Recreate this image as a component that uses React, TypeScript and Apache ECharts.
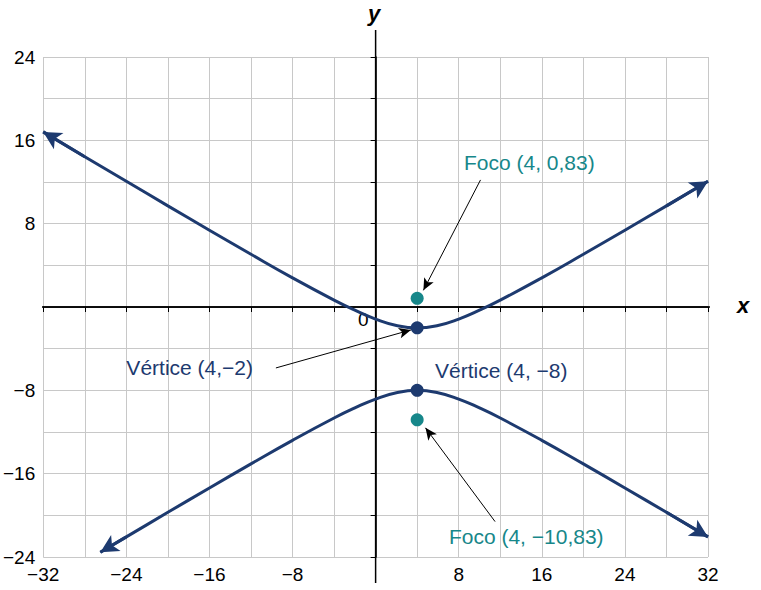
import { useEffect, useRef } from "react";
import * as echarts from "echarts";

const upperX = [-32, -28, -24, -20, -16, -12, -8, -4, -2, 0, 2, 4, 6, 8, 10, 12, 16, 20, 24, 28, 32];
const upperY = [16.81, 14.43, 12.07, 9.71, 7.37, 5.06, 2.8, 0.66, -0.31, -1.16, -1.77, -2, -1.77, -1.16, -0.31, 0.66, 2.8, 5.06, 7.37, 9.71, 12.07];
const lowerX = [-26.5, -24, -20, -16, -12, -8, -4, -2, 0, 2, 4, 6, 8, 10, 12, 16, 20, 24, 28, 32];
const lowerY = [-23.54, -22.07, -19.71, -17.37, -15.06, -12.8, -10.66, -9.69, -8.84, -8.23, -8, -8.23, -8.84, -9.69, -10.66, -12.8, -15.06, -17.37, -19.71, -22.07];
const navyPoints = [[4, -2], [4, -8]];
const tealPoints = [[4, 0.83], [4, -10.83]];

const NAVY = "#1d3a6f";
const TEAL = "#17878a";
const minus = (v: number) => (v < 0 ? "\u2212" + Math.abs(v) : String(v));

export default function App() {
  const ref = useRef<HTMLDivElement>(null);

  useEffect(() => {
    document.body.style.margin = "0";
    if (!ref.current) return;
    const chart = echarts.init(ref.current, null, { renderer: "svg" });
    const zip = (xs: number[], ys: number[]) => xs.map((x, i) => [x, ys[i]]);
    const up = zip(upperX, upperY);
    const lo = zip(lowerX, lowerY);
    const endArrows = (pts: number[][]) => [
      [{ coord: pts[1] }, { coord: pts[0] }],
      [{ coord: pts[pts.length - 2] }, { coord: pts[pts.length - 1] }],
    ];
    const label = (text: string, coord: number[], color: string) => ({
      coord,
      symbolSize: 0,
      label: { show: true, formatter: text, color, fontSize: 21, position: "inside" },
    });
    const arrowLine = (a: number[], b: number[]) => [{ coord: a }, { coord: b }];
    const axisCommon = {
      type: "value",
      interval: 4,
      axisLine: { show: true, onZero: true, lineStyle: { color: "#000", width: 1.5 } },
      axisTick: { show: true, length: 5, lineStyle: { color: "#000" } },
      axisLabel: {
        color: "#000",
        fontSize: 19,
        formatter: (v: number) => (v % 8 === 0 && v !== 0 ? minus(v) : ""),
      },
      splitLine: { show: true, lineStyle: { color: "#c8c8c8", width: 1 } },
    };
    const axisArrows = (a: number[], b: number[]) => ({
      type: "line",
      data: [a, b],
      showSymbol: false,
      clip: false,
      lineStyle: { color: "#000", width: 1.5 },
      markLine: {
        silent: true,
        symbol: ["arrow", "arrow"],
        symbolSize: [10, 14],
        label: { show: false },
        lineStyle: { color: "#000", width: 1.5, type: "solid" },
        data: [arrowLine(a, b)],
      },
    });

    chart.setOption({
      animation: false,
      textStyle: { fontFamily: "Liberation Sans" },
      grid: { left: 42, right: 53, top: 57, bottom: 33 },
      xAxis: { ...axisCommon, min: -32, max: 32 },
      yAxis: { ...axisCommon, min: -24, max: 24 },
      series: [
        axisArrows([-34.1, 0], [34.1, 0]),
        axisArrows([0, -26.5], [0, 26.6]),
        {
          type: "line",
          data: [],
          clip: false,
          markPoint: {
            data: [
              label("Foco (4, 0,83)", [14.8, 13.9], TEAL),
              label("Vértice (4,\u22122)", [-17.9, -5.85], NAVY),
              label("Vértice (4, \u22128)", [12.1, -6.1], NAVY),
              label("Foco (4, \u221210,83)", [14.5, -22.0], TEAL),
            ],
          },
          markLine: {
            silent: true,
            symbol: ["none", "arrow"],
            symbolSize: [8, 12],
            label: { show: false },
            lineStyle: { color: "#000", width: 1, type: "solid" },
            data: [
              arrowLine([10.1, 12.2], [4.6, 1.6]),
              arrowLine([-9.6, -5.85], [3.4, -2.2]),
              arrowLine([11.5, -20.6], [4.8, -11.6]),
            ],
          },
        },
        ...[up, lo].map((pts) => ({
          type: "line",
          data: pts,
          smooth: true,
          showSymbol: false,
          clip: false,
          lineStyle: { color: NAVY, width: 3 },
          markLine: {
            silent: true,
            symbol: ["none", "arrow"],
            symbolSize: [14, 18],
            label: { show: false },
            lineStyle: { color: NAVY, width: 3, type: "solid" },
            data: endArrows(pts),
          },
        })),
        {
          type: "scatter",
          data: navyPoints,
          symbolSize: 13,
          itemStyle: { color: NAVY, opacity: 1 },
          z: 5,
        },
        {
          type: "scatter",
          data: tealPoints,
          symbolSize: 13,
          itemStyle: { color: TEAL, opacity: 1 },
          z: 5,
        },
      ],
      graphic: [
        { type: "text", left: 737, top: 294, style: { text: "x", font: "italic bold 22px Liberation Sans", fill: "#000" } },
        { type: "text", left: 368, top: 2, style: { text: "y", font: "italic bold 22px Liberation Sans", fill: "#000" } },
        { type: "text", left: 358, top: 310, style: { text: "0", font: "19px Liberation Sans", fill: "#000" } },
      ],
    });
    return () => chart.dispose();
  }, []);

  return <div ref={ref} style={{ width: 761, height: 590 }} />;
}
